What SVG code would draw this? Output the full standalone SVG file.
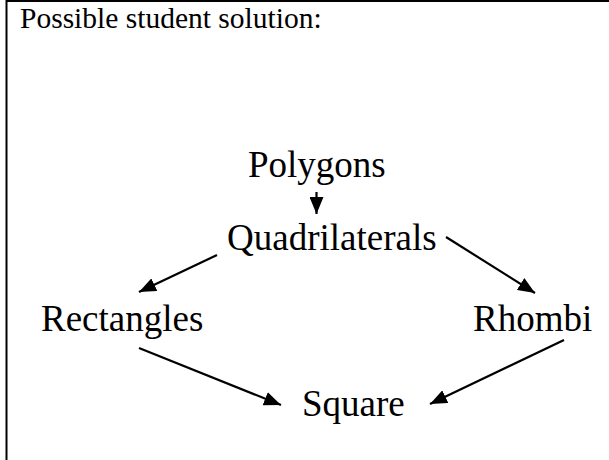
<svg xmlns="http://www.w3.org/2000/svg" width="609" height="460" viewBox="0 0 609 460">
<style>
.t{font-family:"Liberation Serif","Times New Roman",serif;fill:#000}
.big{font-size:37px}
.hdr{font-size:29.5px}
.c{stroke:#000;stroke-width:2.2;fill:none}
</style>
<defs>
<marker id="ah" viewBox="0 0 17 14" refX="17" refY="7" markerWidth="17" markerHeight="14" markerUnits="userSpaceOnUse" orient="auto">
<path d="M0,0 L17,7 L0,14 Z" fill="#000"/>
</marker>
</defs>
<rect width="609" height="460" fill="#fff"/>
<g id="frame">
<line x1="6.5" y1="1" x2="609" y2="1" stroke="#000" stroke-width="2"/>
<line x1="6.5" y1="0" x2="6.5" y2="460" stroke="#000" stroke-width="2"/>
</g>
<text id="header" class="t hdr" x="20" y="28">Possible student solution:</text>
<g id="connectors">
<line class="c" x1="316.5" y1="192" x2="316.5" y2="214" marker-end="url(#ah)"/>
<line class="c" x1="217" y1="255" x2="139" y2="292" marker-end="url(#ah)"/>
<line class="c" x1="446" y1="237" x2="535" y2="293" marker-end="url(#ah)"/>
<line class="c" x1="139" y1="348" x2="281" y2="405" marker-end="url(#ah)"/>
<line class="c" x1="564" y1="340" x2="430" y2="404" marker-end="url(#ah)"/>
</g>
<g id="polygons"><text class="t big" x="248" y="177">Polygons</text></g>
<g id="quadrilaterals"><text class="t big" x="227" y="250">Quadrilaterals</text></g>
<g id="rectangles"><text class="t big" x="41" y="331">Rectangles</text></g>
<g id="rhombi"><text class="t big" x="473" y="331">Rhombi</text></g>
<g id="square"><text class="t big" x="302" y="416">Square</text></g>
</svg>
